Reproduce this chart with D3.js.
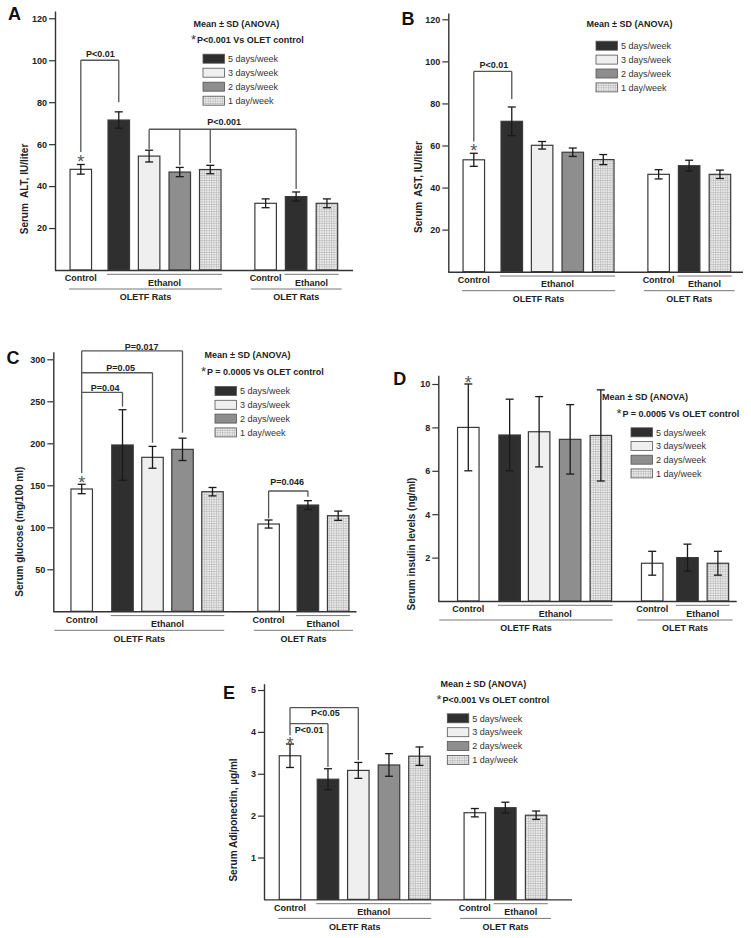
<!DOCTYPE html>
<html>
<head>
<meta charset="utf-8">
<script src="https://cdn.jsdelivr.net/npm/d3@7"></script>
<style>
  body { margin: 0; background: #fff; }
  svg text { font-family: "Liberation Sans", Arial, sans-serif; }
</style>
</head>
<body>
<div id="chart"></div>
<script>
// bars in every panel, left to right
var barNames = ["OLETF Control", "OLETF 5 days/week", "OLETF 3 days/week", "OLETF 2 days/week", "OLETF 1 day/week",
                "OLET Control", "OLET 5 days/week", "OLET 1 day/week"];
var barKinds = ["control", "d5", "d3", "d2", "d1", "control", "d5", "d1"];
var legendKinds = ["d5", "d3", "d2", "d1"];
var legendLabels = ["5 days/week", "3 days/week", "2 days/week", "1 day/week"];
var groupNames = ["OLETF Rats", "OLET Rats"];

// values (mean, SD)
var altMean = [48.0, 71.5, 54.3, 46.7, 47.9, 31.8, 35.0, 31.8];
var altSD = [2.3, 3.9, 2.8, 2.2, 2.0, 2.1, 2.2, 2.1];
var astMean = [53.2, 71.5, 60.1, 56.8, 53.3, 46.3, 50.4, 46.3];
var astSD = [3.1, 6.8, 1.8, 2.0, 2.4, 2.2, 2.6, 2.0];
var glucoseMean = [145.6, 198, 183.3, 192.8, 142.4, 103.9, 126.5, 113.8];
var glucoseSD = [5.6, 42, 13, 13.3, 5.0, 4.8, 5.2, 5.5];
var insulinMean = [8.0, 7.65, 7.8, 7.45, 7.63, 1.74, 2.0, 1.74];
var insulinSD = [2.0, 1.65, 1.62, 1.6, 2.1, 0.55, 0.62, 0.55];
var adipoMean = [3.43, 2.87, 3.08, 3.21, 3.42, 2.07, 2.19, 2.01];
var adipoSD = [0.28, 0.25, 0.19, 0.27, 0.22, 0.10, 0.13, 0.10];

var altTicks = [20, 40, 60, 80, 100, 120];
var astTicks = [20, 40, 60, 80, 100, 120];
var glucoseTicks = [50, 100, 150, 200, 250, 300];
var insulinTicks = [2, 4, 6, 8, 10];
var adipoTicks = [1, 2, 3, 4, 5];

// significance brackets: bar indexes and value levels
var altBrackets = [
  {from: 0, to: 1, level: 100, legs: [[0, 56.3], [1, 80]], label: "P<0.01", labelSlot: 0.64, labelValue: 103.2},
  {from: 2, to: 6, level: 67.1, legs: [[2, 57.6], [3, 50], [4, 51], [6, 38.6]], label: "P<0.001", labelSlot: 4.7, labelValue: 70.6}
];
var astBrackets = [
  {from: 0, to: 1, level: 95.2, legs: [[0, 61.9], [1, 82.1]], label: "P<0.01", labelSlot: 0.66, labelValue: 98.4}
];
var glucoseBrackets = [
  {from: 0, to: 3, level: 310, legs: [[0, 164.6], [3, 212.6]], label: "P=0.017", labelSlot: 2.0, labelValue: 315},
  {from: 0, to: 2, level: 284, legs: [[2, 200.7]], label: "P=0.05", labelSlot: 1.3, labelValue: 290},
  {from: 0, to: 1, level: 260.7, legs: [[1, 243.6]], label: "P=0.04", labelSlot: 0.78, labelValue: 266},
  {from: 5, to: 6, level: 143.2, legs: [[5, 110.7], [6, 136.4]], label: "P=0.046", labelSlot: 6.85, labelValue: 154.3}
];
var adipoBrackets = [
  {from: 0, to: 2, level: 4.58, legs: [[0, 3.92], [2, 3.32]], label: "P<0.05", labelSlot: 1.16, labelValue: 4.445},
  {from: 0, to: 1, level: 4.195, legs: [[1, 3.16]], label: "P<0.01", labelSlot: 0.63, labelValue: 4.06}
];

var slotsStd = [0, 1.245, 2.24, 3.245, 4.245, 6.06, 7.06, 8.07];
var slotsC = [0, 1.36, 2.36, 3.36, 4.36, 6.23, 7.54, 8.55];
var slotsD = [0, 1.36, 2.33, 3.35, 4.36, 6.05, 7.21, 8.21];

var fills = {control: "#ffffff", d5: "#2f2f2f", d3: "#efefef", d2: "#8e8e8e", d1: "url(#hatch)"};

var panels = [
  {letter: "A", lx: 8, ly: 19.5, mean: altMean, sd: altSD, ticks: altTicks, title: "Serum  ALT, IU/liter", tx: 25, ty: 189,
   axisX: 55, xEnd: 353, y0: 270, yTickTop: 18.3, axisMax: 123.5, c0: 80.8, step: 30.5, slots: slotsStd, fromAxis: false,
   star: 53.3, brackets: altBrackets,
   legend: {meanX: 236.3, meanY: 24, pX: 191, pY: 40, pText: "P<0.001 Vs OLET control", sx: 203, sy: 58.7, step: 14}},
  {letter: "B", lx: 401.5, ly: 25, mean: astMean, sd: astSD, ticks: astTicks, title: "Serum  AST, IU/liter", tx: 418.3, ty: 187,
   axisX: 448.3, xEnd: 743, y0: 271.7, yTickTop: 19.3, axisMax: 123, c0: 473.8, step: 30.5, slots: slotsStd, fromAxis: false,
   star: 59.5, brackets: astBrackets,
   legend: {meanX: 629.5, meanY: 24, pText: null, sx: 596, sy: 45.7, step: 13.9}},
  {letter: "C", lx: 6.5, ly: 363.5, mean: glucoseMean, sd: glucoseSD, ticks: glucoseTicks, title: "Serum glucose (mg/100 ml)", tx: 19.3, ty: 531.7,
   axisX: 53.3, xEnd: 356.5, y0: 611.3, yTickTop: 359.3, axisMax: 309, c0: 81.7, step: 30, slots: slotsC, fromAxis: true,
   star: 157.9, brackets: glucoseBrackets,
   legend: {meanX: 247.5, meanY: 355, pX: 201, pY: 372, pText: "P = 0.0005 Vs OLET control", sx: 215, sy: 391, step: 13.8}},
  {letter: "D", lx: 393.3, ly: 385, mean: insulinMean, sd: insulinSD, ticks: insulinTicks, title: "Serum insulin levels (ng/ml)", tx: 411.7, ty: 544,
   axisX: 438.3, xEnd: 736.7, y0: 601, yTickTop: 384, axisMax: 10.4, c0: 468.3, step: 30.4, slots: slotsD, fromAxis: true,
   star: 10.23, brackets: [],
   legend: {meanX: 645, meanY: 396.3, pX: 616.5, pY: 413.3, pText: "P = 0.0005 Vs OLET control", sx: 631, sy: 432.3, step: 13.7}},
  {letter: "E", lx: 223, ly: 698.5, mean: adipoMean, sd: adipoSD, ticks: adipoTicks, title: "Serum Adiponectin, \u00b5g/ml", tx: 233.3, ty: 820,
   axisX: 264, xEnd: 572, y0: 899.4, yTickTop: 690, axisMax: 5.15, c0: 290, step: 30.5, slots: slotsStd, fromAxis: false,
   star: 3.82, brackets: adipoBrackets,
   legend: {meanX: 483.3, meanY: 683.3, pX: 436.5, pY: 699.3, pText: "P<0.001 Vs OLET control", sx: 447.3, sy: 718.3, step: 13.9}}
];

var barW = 21.5;

var svg = d3.select("#chart")
  .append("svg")
  .attr("width", 751)
  .attr("height", 938)
  .style("background", "#fff");

// fine grid fill used for the 1 day/week bars
var pat = svg.append("defs").append("pattern")
  .attr("id", "hatch")
  .attr("patternUnits", "userSpaceOnUse")
  .attr("width", 2.4)
  .attr("height", 2.4);
pat.append("rect").attr("width", 2.4).attr("height", 2.4).attr("fill", "#ebebeb");
pat.append("path").attr("d", "M0,0.3H2.4M0.3,0V2.4").attr("stroke", "#b3b3b3").attr("stroke-width", 0.6);

function drawPanel(p) {
  var g = svg.append("g");
  var tickMax = p.ticks[p.ticks.length - 1];
  var k = (p.y0 - p.yTickTop) / tickMax;
  var y = d3.scaleLinear().domain([0, p.axisMax]).range([p.y0, p.y0 - p.axisMax * k]);
  var x = d3.scaleLinear().domain([0, 1]).range([p.c0, p.c0 + p.step]);
  var xb = function(i) { return x(p.slots[i]); };

  var data = barKinds.map(function(kind, i) {
    return {name: barNames[i], kind: kind, mean: p.mean[i], sd: p.sd[i], i: i};
  });

  // bars
  g.selectAll("rect.bar")
    .data(data)
    .enter()
    .append("rect")
    .attr("class", "bar")
    .attr("x", d => xb(d.i) - barW / 2)
    .attr("width", barW)
    .attr("y", d => y(d.mean))
    .attr("height", d => p.y0 - y(d.mean))
    .attr("fill", d => fills[d.kind])
    .attr("stroke", "#3a3a3a")
    .attr("stroke-width", 1.2);

  // error bars
  var err = g.selectAll("g.err").data(data).enter().append("g").attr("class", "err")
    .attr("stroke", "#1a1a1a").attr("stroke-width", 1.3);
  err.append("line")
    .attr("x1", d => xb(d.i)).attr("x2", d => xb(d.i))
    .attr("y1", d => y(d.mean + d.sd)).attr("y2", d => y(d.mean - d.sd));
  err.append("line")
    .attr("x1", d => xb(d.i) - 4).attr("x2", d => xb(d.i) + 4)
    .attr("y1", d => y(d.mean + d.sd)).attr("y2", d => y(d.mean + d.sd));
  err.append("line")
    .attr("x1", d => xb(d.i) - 4).attr("x2", d => xb(d.i) + 4)
    .attr("y1", d => y(d.mean - d.sd)).attr("y2", d => y(d.mean - d.sd));

  // axes
  var yAxis = g.append("g")
    .attr("transform", `translate(${p.axisX},0)`)
    .call(d3.axisLeft(y).tickValues(p.ticks).tickFormat(d3.format("d"))
      .tickSize(6).tickSizeOuter(0).tickPadding(2));
  yAxis.select(".domain").attr("stroke", "#333").attr("stroke-width", 1.4);
  yAxis.selectAll(".tick line").attr("stroke", "#333").attr("stroke-width", 1.2);
  yAxis.selectAll(".tick text")
    .attr("font-family", "Liberation Sans, Arial, sans-serif")
    .attr("font-size", 9).attr("font-weight", "bold").attr("fill", "#222");

  g.append("line")
    .attr("x1", p.axisX).attr("x2", p.xEnd)
    .attr("y1", p.y0 + 0.5).attr("y2", p.y0 + 0.5)
    .attr("stroke", "#333").attr("stroke-width", 1.4);

  // axis title
  g.append("text")
    .attr("transform", `translate(${p.tx + 3.4},${p.ty}) rotate(-90)`)
    .attr("text-anchor", "middle")
    .attr("font-size", 10).attr("font-weight", "bold").attr("fill", "#222")
    .style("white-space", "pre")
    .text(p.title);

  // panel letter
  g.append("text")
    .attr("x", p.lx).attr("y", p.ly)
    .attr("font-size", 18).attr("font-weight", "bold").attr("fill", "#111")
    .text(p.letter);

  // category labels under the axis
  var lab = g.append("g").attr("font-size", 9).attr("font-weight", "bold").attr("fill", "#222").attr("text-anchor", "middle");
  var line = function(x1, x2, yy) {
    g.append("line").attr("x1", x1).attr("x2", x2).attr("y1", yy).attr("y2", yy)
      .attr("stroke", "#777").attr("stroke-width", 1);
  };
  var left = function(i) { return xb(i) - barW / 2; };
  var right = function(i) { return xb(i) + barW / 2; };

  [[0, 1, 4, p.fromAxis ? p.axisX + 1 : left(0) - 1, right(4) + 1],
   [5, 6, 7, left(5) - 4, right(7) + 4]].forEach(function(gr, gi) {
    lab.append("text").attr("x", xb(gr[0])).attr("y", p.y0 + 11.2).text("Control");
    line(left(gr[1]) - 1, right(gr[2]) + 1, p.y0 + 4.3);
    lab.append("text").attr("x", (left(gr[1]) + right(gr[2])) / 2).attr("y", p.y0 + 15.6).text("Ethanol");
    line(gr[3], gr[4], p.y0 + 19);
    lab.append("text").attr("x", (gr[3] + gr[4]) / 2).attr("y", p.y0 + 30.2).text(groupNames[gi]);
  });

  // star over the OLETF control bar
  g.append("text")
    .attr("x", xb(0)).attr("y", y(p.star) + 10.2)
    .attr("text-anchor", "middle")
    .attr("font-size", 18).attr("fill", "#555")
    .text("*");

  // brackets
  p.brackets.forEach(function(b) {
    var bg = g.append("g").attr("stroke", "#555").attr("stroke-width", 1.3).attr("fill", "none");
    bg.append("line")
      .attr("x1", xb(b.from)).attr("x2", xb(b.to))
      .attr("y1", y(b.level)).attr("y2", y(b.level));
    b.legs.forEach(function(l) {
      bg.append("line")
        .attr("x1", xb(l[0])).attr("x2", xb(l[0]))
        .attr("y1", y(b.level)).attr("y2", y(l[1]));
    });
    g.append("text")
      .attr("x", x(b.labelSlot)).attr("y", y(b.labelValue) + 3.2)
      .attr("text-anchor", "middle")
      .attr("font-size", 9).attr("font-weight", "bold").attr("fill", "#222")
      .text(b.label);
  });

  // legend block
  var L = p.legend;
  g.append("text")
    .attr("x", L.meanX).attr("y", L.meanY + 3.2)
    .attr("text-anchor", "middle")
    .attr("font-size", 9).attr("font-weight", "bold").attr("fill", "#222")
    .text("Mean \u00b1 SD (ANOVA)");
  if (L.pText) {
    g.append("text")
      .attr("x", L.pX).attr("y", L.pY + 4.4)
      .attr("font-size", 13).attr("fill", "#333")
      .text("*");
    g.append("text")
      .attr("x", L.pX + 6).attr("y", L.pY + 3.2)
      .attr("font-size", 9).attr("font-weight", "bold").attr("fill", "#222")
      .text(L.pText);
  }
  var items = g.selectAll("g.leg")
    .data(legendKinds)
    .enter()
    .append("g")
    .attr("class", "leg")
    .attr("transform", (d, i) => `translate(${L.sx},${L.sy + i * L.step})`);
  items.append("rect")
    .attr("x", 0).attr("y", -4.5)
    .attr("width", barW).attr("height", 9)
    .attr("fill", d => fills[d])
    .attr("stroke", "#555").attr("stroke-width", 0.8);
  items.append("text")
    .attr("x", barW + 3.5).attr("y", 3.2)
    .attr("font-size", 9).attr("fill", "#333")
    .text((d, i) => legendLabels[i]);
}

panels.forEach(drawPanel);
</script>
</body>
</html>
